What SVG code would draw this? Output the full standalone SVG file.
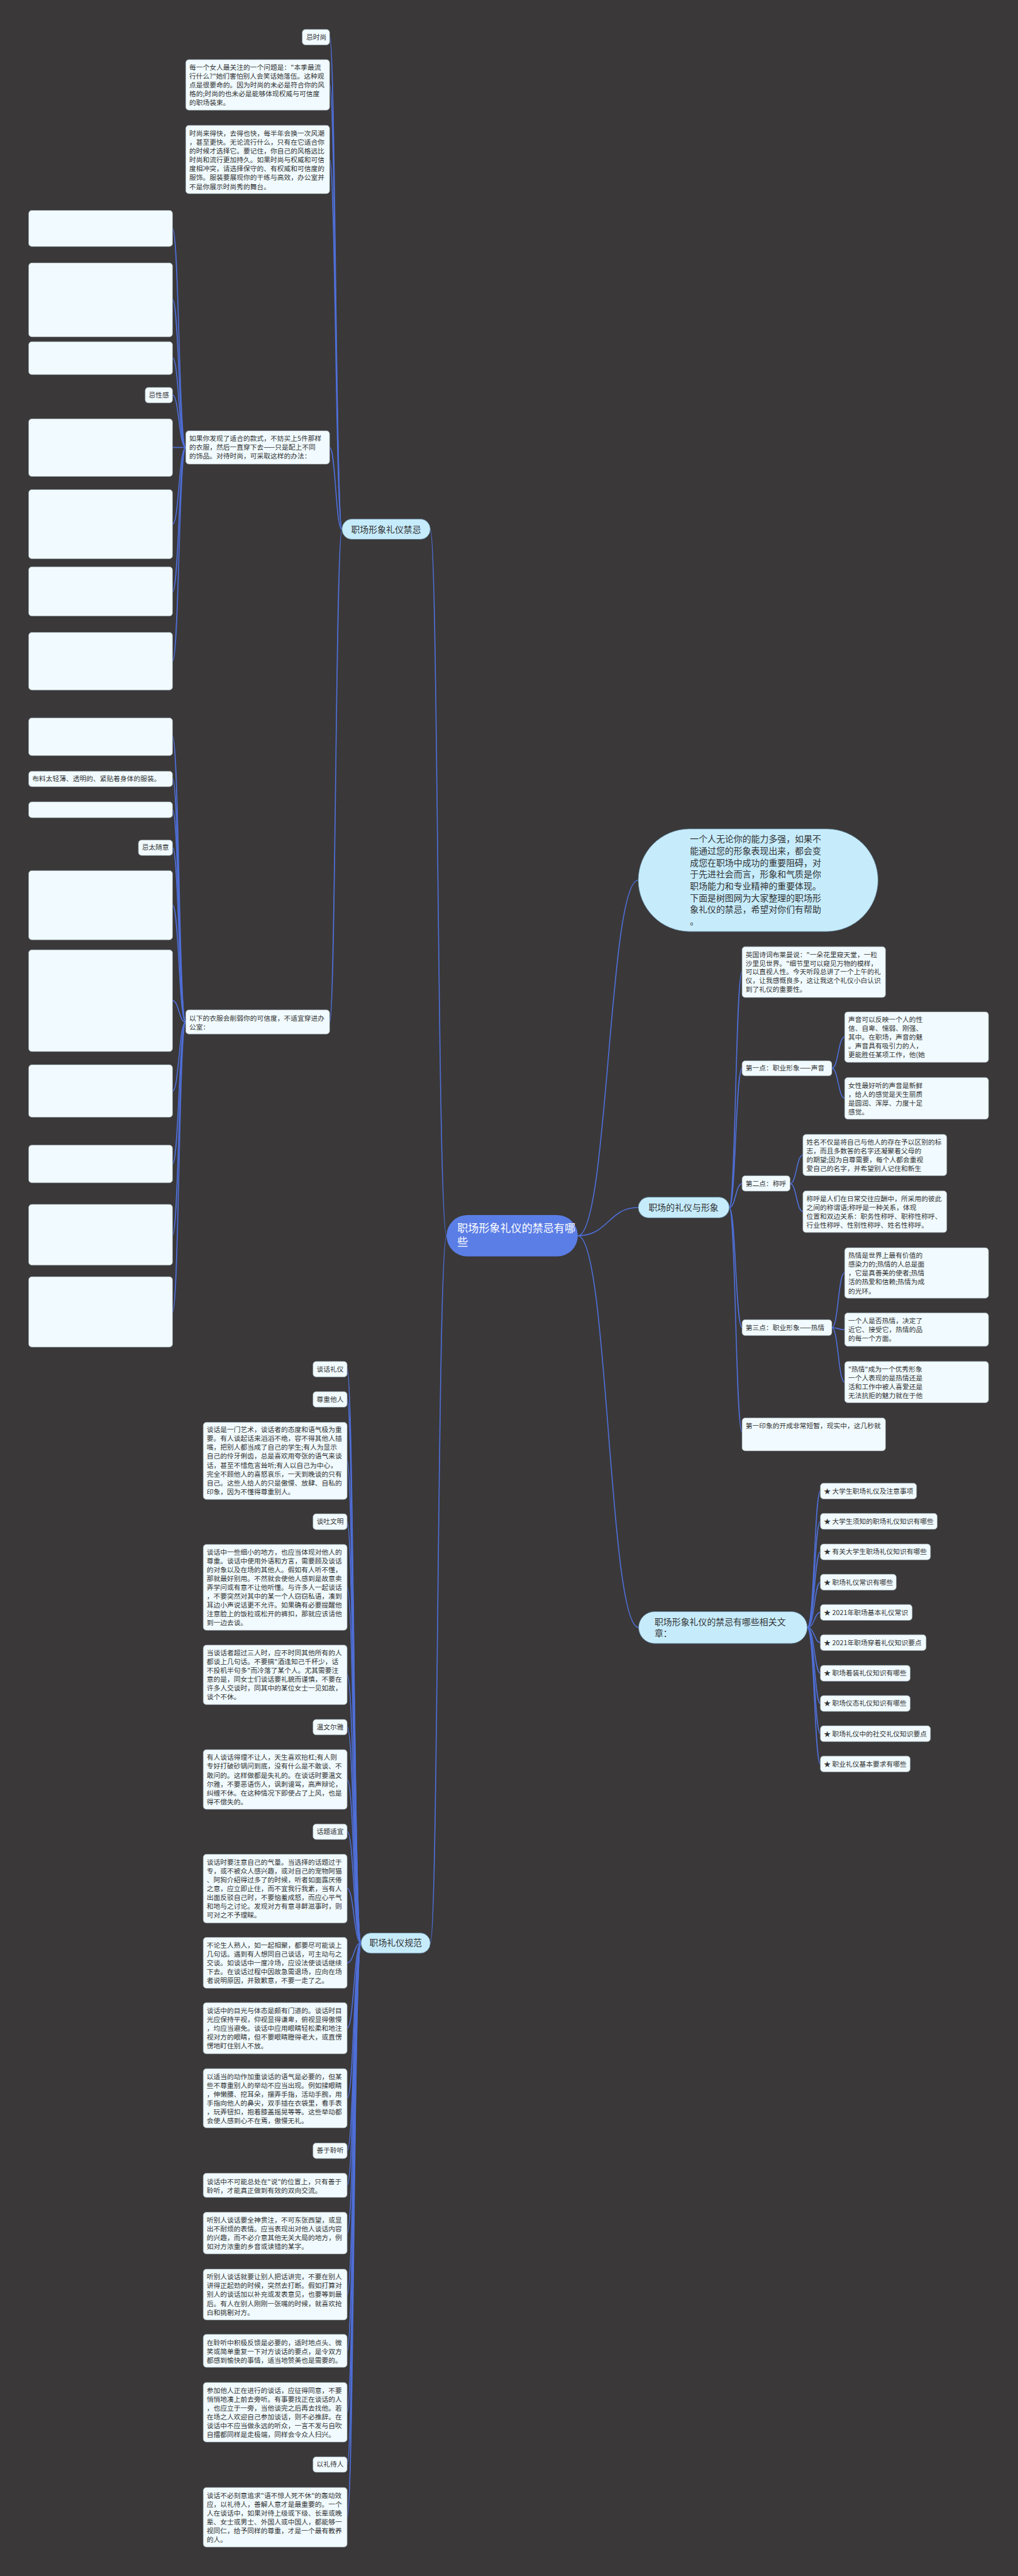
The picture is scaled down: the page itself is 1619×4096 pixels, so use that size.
<svg xmlns="http://www.w3.org/2000/svg" width="1619" height="4096" viewBox="0 0 1619 4096">
<style>
.bg{fill:#3a3839}
.b{fill:#f1fbff;stroke:#8d9aa3;stroke-width:1}
.m{fill:#c6ecfc;stroke:#5d7d92;stroke-width:1.2}
.ctr{fill:#5b7ee6}
.t{font-family:"Noto Sans CJK SC","Noto Sans",sans-serif;font-size:17px;fill:#333}
.mt{font-family:"Noto Sans CJK SC","Noto Sans",sans-serif;font-size:22px;fill:#333}
.ct{font-family:"Noto Sans CJK SC","Noto Sans",sans-serif;font-size:27px;fill:#fff}
.c{fill:none;stroke:#4f6fd8;stroke-width:2.6}
</style>
<rect class="bg" x="0" y="0" width="1619" height="4096"/>
<g transform="scale(0.63242)">
<g id="connectors">
<path class="c" d="M1123 3107 C1100 3107 1102 1331 1082 1331"/>
<path class="c" d="M1123 3107 C1100 3107 1102 4885 1082 4885"/>
<path class="c" d="M1453 3107 C1530 3107 1530 2213 1605 2213"/>
<path class="c" d="M1453 3107 C1530 3107 1530 3036 1605 3036"/>
<path class="c" d="M1453 3107 C1530 3107 1530 4092 1606 4092"/>
<path class="c" d="M860 1331 C844 1331 844 93 829 93"/>
<path class="c" d="M860 1331 C844 1331 844 213 829 213"/>
<path class="c" d="M860 1331 C844 1331 844 401 829 401"/>
<path class="c" d="M860 1331 C844 1331 844 1125 829 1125"/>
<path class="c" d="M860 1331 C844 1331 844 2570 829 2570"/>
<path class="c" d="M467 1125 C450 1125 450 575 434 575"/>
<path class="c" d="M467 1125 C450 1125 450 754 434 754"/>
<path class="c" d="M467 1125 C450 1125 450 900 434 900"/>
<path class="c" d="M467 1125 C450 1125 450 993 434 993"/>
<path class="c" d="M467 1125 C450 1125 450 1125 434 1125"/>
<path class="c" d="M467 1125 C450 1125 450 1318 434 1318"/>
<path class="c" d="M467 1125 C450 1125 450 1487 434 1487"/>
<path class="c" d="M467 1125 C450 1125 450 1662 434 1662"/>
<path class="c" d="M467 2570 C450 2570 450 1852 434 1852"/>
<path class="c" d="M467 2570 C450 2570 450 1958 434 1958"/>
<path class="c" d="M467 2570 C450 2570 450 2036 434 2036"/>
<path class="c" d="M467 2570 C450 2570 450 2131 434 2131"/>
<path class="c" d="M467 2570 C450 2570 450 2276 434 2276"/>
<path class="c" d="M467 2570 C450 2570 450 2516 434 2516"/>
<path class="c" d="M467 2570 C450 2570 450 2743 434 2743"/>
<path class="c" d="M467 2570 C450 2570 450 2926 434 2926"/>
<path class="c" d="M467 2570 C450 2570 450 3104 434 3104"/>
<path class="c" d="M467 2570 C450 2570 450 3298 434 3298"/>
<path class="c" d="M908 4885 C890 4885 890 3442 873 3442"/>
<path class="c" d="M908 4885 C890 4885 890 3518 873 3518"/>
<path class="c" d="M908 4885 C890 4885 890 3673 873 3673"/>
<path class="c" d="M908 4885 C890 4885 890 3826 873 3826"/>
<path class="c" d="M908 4885 C890 4885 890 3991 873 3991"/>
<path class="c" d="M908 4885 C890 4885 890 4211 873 4211"/>
<path class="c" d="M908 4885 C890 4885 890 4342 873 4342"/>
<path class="c" d="M908 4885 C890 4885 890 4474 873 4474"/>
<path class="c" d="M908 4885 C890 4885 890 4605 873 4605"/>
<path class="c" d="M908 4885 C890 4885 890 4748 873 4748"/>
<path class="c" d="M908 4885 C890 4885 890 4935 873 4935"/>
<path class="c" d="M908 4885 C890 4885 890 5099 873 5099"/>
<path class="c" d="M908 4885 C890 4885 890 5275 873 5275"/>
<path class="c" d="M908 4885 C890 4885 890 5407 873 5407"/>
<path class="c" d="M908 4885 C890 4885 890 5494 873 5494"/>
<path class="c" d="M908 4885 C890 4885 890 5614 873 5614"/>
<path class="c" d="M908 4885 C890 4885 890 5769 873 5769"/>
<path class="c" d="M908 4885 C890 4885 890 5910 873 5910"/>
<path class="c" d="M908 4885 C890 4885 890 6065 873 6065"/>
<path class="c" d="M908 4885 C890 4885 890 6196 873 6196"/>
<path class="c" d="M908 4885 C890 4885 890 6329 873 6329"/>
<path class="c" d="M1834 3036 C1850 3036 1850 2444 1866 2444"/>
<path class="c" d="M1834 3036 C1850 3036 1850 2686 1866 2686"/>
<path class="c" d="M1834 3036 C1850 3036 1850 2976 1866 2976"/>
<path class="c" d="M1834 3036 C1850 3036 1850 3338 1866 3338"/>
<path class="c" d="M1834 3036 C1850 3036 1850 3600 1866 3600"/>
<path class="c" d="M2092 2686 C2108 2686 2108 2607 2124 2607"/>
<path class="c" d="M2092 2686 C2108 2686 2108 2761 2124 2761"/>
<path class="c" d="M1987 2976 C2003 2976 2003 2904 2019 2904"/>
<path class="c" d="M1987 2976 C2003 2976 2003 3046 2019 3046"/>
<path class="c" d="M2092 3338 C2108 3338 2108 3200 2124 3200"/>
<path class="c" d="M2092 3338 C2108 3338 2108 3343 2124 3343"/>
<path class="c" d="M2092 3338 C2108 3338 2108 3475 2124 3475"/>
<path class="c" d="M2030 4092 C2048 4092 2048 3749 2063 3749"/>
<path class="c" d="M2030 4092 C2048 4092 2048 3825 2063 3825"/>
<path class="c" d="M2030 4092 C2048 4092 2048 3902 2063 3902"/>
<path class="c" d="M2030 4092 C2048 4092 2048 3978 2063 3978"/>
<path class="c" d="M2030 4092 C2048 4092 2048 4054 2063 4054"/>
<path class="c" d="M2030 4092 C2048 4092 2048 4130 2063 4130"/>
<path class="c" d="M2030 4092 C2048 4092 2048 4207 2063 4207"/>
<path class="c" d="M2030 4092 C2048 4092 2048 4283 2063 4283"/>
<path class="c" d="M2030 4092 C2048 4092 2048 4359 2063 4359"/>
<path class="c" d="M2030 4092 C2048 4092 2048 4435 2063 4435"/>
</g>

<g id="center"><rect class="ctr" x="1123" y="3055" width="330" height="104" rx="52"/><text class="ct" x="1150" y="3098">职场形象礼仪的禁忌有哪<tspan x="1150" dy="34">些</tspan></text></g>

<g id="n-jinji"><rect class="m" x="860" y="1305" width="222" height="51" rx="25"/><text class="mt" x="883" y="1339">职场形象礼仪禁忌</text></g>
<g id="n-guifan"><rect class="m" x="908" y="4860" width="174" height="51" rx="25"/><text class="mt" x="929" y="4893">职场礼仪规范</text></g>
<g id="n-bubble"><rect class="m" x="1605" y="2084" width="603" height="258" rx="129"/><text class="mt" x="1735" y="2118">一个人无论你的能力多强，如果不<tspan x="1735" dy="29.5">能通过您的形象表现出来，都会变</tspan><tspan x="1735" dy="29.5">成您在职场中成功的重要阻碍，对</tspan><tspan x="1735" dy="29.5">于先进社会而言，形象和气质是你</tspan><tspan x="1735" dy="29.5">职场能力和专业精神的重要体现。</tspan><tspan x="1735" dy="29.5">下面是树图网为大家整理的职场形</tspan><tspan x="1735" dy="29.5">象礼仪的禁忌，希望对你们有帮助</tspan><tspan x="1735" dy="29.5">。</tspan></text></g>
<g id="n-liyi"><rect class="m" x="1605" y="3010" width="229" height="52" rx="26"/><text class="mt" x="1631" y="3044">职场的礼仪与形象</text></g>
<g id="n-wenzhang"><rect class="m" x="1606" y="4052" width="424" height="80" rx="40"/><text class="mt" x="1646" y="4086">职场形象礼仪的禁忌有哪些相关文<tspan x="1646" dy="29">章：</tspan></text></g>

<g id="u1"><rect class="b" x="760" y="74" width="69" height="39" rx="8"/><text class="t" x="770" y="99">忌时尚</text></g>
<g id="u2"><rect class="b" x="467" y="150" width="362" height="127" rx="8"/><text class="t" x="476" y="176">每一个女人最关注的一个问题是："本季最流<tspan x="476" dy="22.2">行什么?"她们害怕别人会笑话她落伍。这种观</tspan><tspan x="476" dy="22.2">点是很要命的。因为时尚的未必是符合你的风</tspan><tspan x="476" dy="22.2">格的;时尚的也未必是能够体现权威与可信度</tspan><tspan x="476" dy="22.2">的职场装束。</tspan></text></g>
<g id="u3"><rect class="b" x="467" y="315" width="362" height="172" rx="8"/><text class="t" x="476" y="342">时尚来得快，去得也快，每半年会换一次风潮<tspan x="476" dy="22.2">，甚至更快。无论流行什么，只有在它适合你</tspan><tspan x="476" dy="22.2">的时候才选择它。要记住，你自己的风格远比</tspan><tspan x="476" dy="22.2">时尚和流行更加持久。如果时尚与权威和可信</tspan><tspan x="476" dy="22.2">度相冲突，请选择保守的、有权威和可信度的</tspan><tspan x="476" dy="22.2">服饰。服装要展现你的干练与高效，办公室并</tspan><tspan x="476" dy="22.2">不是你展示时尚秀的舞台。</tspan></text></g>
<g id="u4"><rect class="b" x="467" y="1083" width="362" height="84" rx="8"/><text class="t" x="476" y="1109">如果你发现了适合的款式，不妨买上5件那样<tspan x="476" dy="22.2">的衣服，然后一直穿下去——只是配上不同</tspan><tspan x="476" dy="22.2">的饰品。对待时尚，可采取这样的办法：</tspan></text></g>
<g id="u5"><rect class="b" x="467" y="2539" width="362" height="61" rx="8"/><text class="t" x="476" y="2566">以下的衣服会削弱你的可信度，不适宜穿进办<tspan x="476" dy="22.2">公室：</tspan></text></g>

<g id="k1"><rect class="b" x="72" y="529" width="362" height="91" rx="8"/></g>
<g id="k2"><rect class="b" x="72" y="661" width="362" height="186" rx="8"/></g>
<g id="k3"><rect class="b" x="72" y="859" width="362" height="83" rx="8"/></g>
<g id="k4"><rect class="b" x="365" y="974" width="69" height="39" rx="8"/><text class="t" x="374" y="999">忌性感</text></g>
<g id="k5"><rect class="b" x="72" y="1053" width="362" height="145" rx="8"/></g>
<g id="k6"><rect class="b" x="72" y="1231" width="362" height="174" rx="8"/></g>
<g id="k7"><rect class="b" x="72" y="1425" width="362" height="124" rx="8"/></g>
<g id="k8"><rect class="b" x="72" y="1590" width="362" height="145" rx="8"/></g>
<g id="k9"><rect class="b" x="72" y="1805" width="362" height="95" rx="8"/></g>
<g id="k10"><rect class="b" x="72" y="1939" width="362" height="39" rx="8"/><text class="t" x="81" y="1964">布料太轻薄、透明的、紧贴着身体的服装。</text></g>
<g id="k11"><rect class="b" x="72" y="2016" width="362" height="40" rx="8"/></g>
<g id="k12"><rect class="b" x="348" y="2112" width="86" height="39" rx="8"/><text class="t" x="357" y="2137">忌太随意</text></g>
<g id="k13"><rect class="b" x="72" y="2189" width="362" height="174" rx="8"/></g>
<g id="k14"><rect class="b" x="72" y="2388" width="362" height="256" rx="8"/></g>
<g id="k15"><rect class="b" x="72" y="2677" width="362" height="132" rx="8"/></g>
<g id="k16"><rect class="b" x="72" y="2879" width="362" height="95" rx="8"/></g>
<g id="k17"><rect class="b" x="72" y="3028" width="362" height="153" rx="8"/></g>
<g id="k18"><rect class="b" x="72" y="3210" width="362" height="177" rx="8"/></g>

<g id="r1"><rect class="b" x="1866" y="2380" width="361" height="128" rx="8"/><text class="t" x="1875" y="2406">英国诗词布莱曼说："一朵花里窥天堂，一粒<tspan x="1875" dy="22">沙里见世界。"细节里可以窥见万物的模样，</tspan><tspan x="1875" dy="22">可以直视人性。今天听段总讲了一个上午的礼</tspan><tspan x="1875" dy="22">仪，让我感慨良多，这让我这个礼仪小白认识</tspan><tspan x="1875" dy="22">到了礼仪的重要性。</tspan></text></g>
<g id="r2"><rect class="b" x="1866" y="2667" width="226" height="38" rx="8"/><text class="t" x="1875" y="2692">第一点：职业形象——声音</text></g>
<g id="r2a"><rect class="b" x="2124" y="2544" width="362" height="127" rx="8"/><text class="t" x="2133" y="2570">声音可以反映一个人的性<tspan x="2133" dy="22.2">信、自卑、懦弱、刚强、</tspan><tspan x="2133" dy="22.2">其中。在职场，声音的魅</tspan><tspan x="2133" dy="22.2">。声音具有吸引力的人，</tspan><tspan x="2133" dy="22.2">更能胜任某项工作，他(她</tspan></text></g>
<g id="r2b"><rect class="b" x="2124" y="2709" width="362" height="105" rx="8"/><text class="t" x="2133" y="2735">女性最好听的声音是新鲜<tspan x="2133" dy="22.2">，给人的感觉是天生丽质</tspan><tspan x="2133" dy="22.2">是圆润、浑厚、力度十足</tspan><tspan x="2133" dy="22.2">感觉。</tspan></text></g>
<g id="r3"><rect class="b" x="1866" y="2956" width="121" height="39" rx="8"/><text class="t" x="1875" y="2982">第二点：称呼</text></g>
<g id="r3a"><rect class="b" x="2019" y="2852" width="362" height="104" rx="8"/><text class="t" x="2028" y="2878">姓名不仅是将自己与他人的存在予以区别的标<tspan x="2028" dy="22.2">志，而且多数答的名字还凝聚着父母的</tspan><tspan x="2028" dy="22.2">的期望;因为自尊需要，每个人都会重视</tspan><tspan x="2028" dy="22.2">爱自己的名字，并希望别人记住和新生</tspan></text></g>
<g id="r3b"><rect class="b" x="2019" y="2994" width="362" height="105" rx="8"/><text class="t" x="2028" y="3020">称呼是人们在日常交往应酬中，所采用的彼此<tspan x="2028" dy="22.2">之间的称谓语;称呼是一种关系，体现</tspan><tspan x="2028" dy="22.2">位置和双边关系：职务性称呼、职称性称呼、</tspan><tspan x="2028" dy="22.2">行业性称呼、性别性称呼、姓名性称呼。</tspan></text></g>
<g id="r4"><rect class="b" x="1866" y="3318" width="226" height="40" rx="8"/><text class="t" x="1875" y="3344">第三点：职业形象——热情</text></g>
<g id="r4a"><rect class="b" x="2124" y="3137" width="362" height="127" rx="8"/><text class="t" x="2133" y="3163">热情是世界上最有价值的<tspan x="2133" dy="22.2">感染力的;热情的人总是面</tspan><tspan x="2133" dy="22.2">，它是真善美的使者;热情</tspan><tspan x="2133" dy="22.2">活的热爱和信赖;热情为成</tspan><tspan x="2133" dy="22.2">的光环。</tspan></text></g>
<g id="r4b"><rect class="b" x="2124" y="3301" width="362" height="84" rx="8"/><text class="t" x="2133" y="3327">一个人是否热情，决定了<tspan x="2133" dy="22.2">近它、接受它，热情的品</tspan><tspan x="2133" dy="22.2">的每一个方面。</tspan></text></g>
<g id="r4c"><rect class="b" x="2124" y="3423" width="362" height="104" rx="8"/><text class="t" x="2133" y="3449">"热情"成为一个优秀形象<tspan x="2133" dy="22.2">一个人表现的是热情还是</tspan><tspan x="2133" dy="22.2">活和工作中被人喜爱还是</tspan><tspan x="2133" dy="22.2">无法抗拒的魅力就在于他</tspan></text></g>
<g id="r5"><rect class="b" x="1866" y="3565" width="361" height="83" rx="8"/><text class="t" x="1875" y="3591">第一印象的开成非常短暂，现实中，这几秒就</text></g>

<g id="l1"><rect class="b" x="787" y="3423" width="86" height="39" rx="8"/><text class="t" x="796" y="3448">谈话礼仪</text></g>
<g id="l2"><rect class="b" x="787" y="3499" width="86" height="39" rx="8"/><text class="t" x="796" y="3524">尊重他人</text></g>
<g id="l3"><rect class="b" x="511" y="3576" width="362" height="194" rx="8"/><text class="t" x="520" y="3601">谈话是一门艺术，谈话者的态度和语气极为重<tspan x="520" dy="22.2">要。有人谈起话来滔滔不绝，容不得其他人插</tspan><tspan x="520" dy="22.2">嘴，把别人都当成了自己的学生;有人为显示</tspan><tspan x="520" dy="22.2">自己的伶牙俐齿，总是喜欢用夸张的语气来谈</tspan><tspan x="520" dy="22.2">话，甚至不惜危言耸听;有人以自己为中心，</tspan><tspan x="520" dy="22.2">完全不顾他人的喜怒哀乐，一天到晚谈的只有</tspan><tspan x="520" dy="22.2">自己。这些人给人的只是傲慢、放肆、自私的</tspan><tspan x="520" dy="22.2">印象，因为不懂得尊重别人。</tspan></text></g>
<g id="l4"><rect class="b" x="787" y="3806" width="86" height="40" rx="8"/><text class="t" x="796" y="3832">谈吐文明</text></g>
<g id="l5"><rect class="b" x="511" y="3883" width="362" height="216" rx="8"/><text class="t" x="520" y="3909">谈话中一些细小的地方，也应当体现对他人的<tspan x="520" dy="22.2">尊重。谈话中使用外语和方言，需要顾及谈话</tspan><tspan x="520" dy="22.2">的对象以及在场的其他人。假如有人听不懂，</tspan><tspan x="520" dy="22.2">那就最好别用。不然就会使他人感到是故意卖</tspan><tspan x="520" dy="22.2">弄学问或有意不让他听懂。与许多人一起谈话</tspan><tspan x="520" dy="22.2">，不要突然对其中的某一个人窃窃私语，凑到</tspan><tspan x="520" dy="22.2">耳边小声说话更不允许。如果确有必要提醒他</tspan><tspan x="520" dy="22.2">注意脸上的饭粒或松开的裤扣，那就应该请他</tspan><tspan x="520" dy="22.2">到一边去谈。</tspan></text></g>
<g id="l6"><rect class="b" x="511" y="4136" width="362" height="150" rx="8"/><text class="t" x="520" y="4162">当谈话者超过三人时，应不时同其他所有的人<tspan x="520" dy="22.2">都谈上几句话。不要搞"酒逢知己千杯少，话</tspan><tspan x="520" dy="22.2">不投机半句多"而冷落了某个人。尤其需要注</tspan><tspan x="520" dy="22.2">意的是，同女士们谈话要礼貌而谨慎，不要在</tspan><tspan x="520" dy="22.2">许多人交谈时，同其中的某位女士一见如故，</tspan><tspan x="520" dy="22.2">谈个不休。</tspan></text></g>
<g id="l7"><rect class="b" x="787" y="4323" width="86" height="39" rx="8"/><text class="t" x="796" y="4348">温文尔雅</text></g>
<g id="l8"><rect class="b" x="511" y="4399" width="362" height="150" rx="8"/><text class="t" x="520" y="4425">有人谈话得理不让人，天生喜欢抬杠;有人则<tspan x="520" dy="22.2">专好打破砂锅问到底，没有什么是不敢谈、不</tspan><tspan x="520" dy="22.2">敢问的。这样做都是失礼的。在谈话时要温文</tspan><tspan x="520" dy="22.2">尔雅，不要恶语伤人，讽刺谩骂，高声辩论，</tspan><tspan x="520" dy="22.2">纠缠不休。在这种情况下即使占了上风，也是</tspan><tspan x="520" dy="22.2">得不偿失的。</tspan></text></g>
<g id="l9"><rect class="b" x="787" y="4586" width="86" height="39" rx="8"/><text class="t" x="796" y="4611">话题适宜</text></g>
<g id="l10"><rect class="b" x="511" y="4662" width="362" height="173" rx="8"/><text class="t" x="520" y="4688">谈话时要注意自己的气量。当选择的话题过于<tspan x="520" dy="22.2">专，或不被众人感兴趣，或对自己的宠物阿猫</tspan><tspan x="520" dy="22.2">、阿狗介绍得过多了的时候，听者如面露厌倦</tspan><tspan x="520" dy="22.2">之意，应立即止住，而不宜我行我素，当有人</tspan><tspan x="520" dy="22.2">出面反驳自己时，不要恼羞成怒，而应心平气</tspan><tspan x="520" dy="22.2">和地与之讨论。发现对方有意寻衅滋事时，则</tspan><tspan x="520" dy="22.2">可对之不予理睬。</tspan></text></g>
<g id="l11"><rect class="b" x="511" y="4871" width="362" height="128" rx="8"/><text class="t" x="520" y="4897">不论生人熟人，如一起相聚，都要尽可能谈上<tspan x="520" dy="22.2">几句话。遇到有人想同自己谈话，可主动与之</tspan><tspan x="520" dy="22.2">交谈。如谈话中一度冷场，应设法使谈话继续</tspan><tspan x="520" dy="22.2">下去。在谈话过程中因故急需退场，应向在场</tspan><tspan x="520" dy="22.2">者说明原因，并致歉意，不要一走了之。</tspan></text></g>
<g id="l12"><rect class="b" x="511" y="5035" width="362" height="129" rx="8"/><text class="t" x="520" y="5062">谈话中的目光与体态是颇有门道的。谈话时目<tspan x="520" dy="22.2">光应保持平视，仰视显得谦卑，俯视显得傲慢</tspan><tspan x="520" dy="22.2">，均应当避免。谈话中应用眼睛轻松柔和地注</tspan><tspan x="520" dy="22.2">视对方的眼睛，但不要眼睛瞪得老大，或直愣</tspan><tspan x="520" dy="22.2">愣地盯住别人不放。</tspan></text></g>
<g id="l13"><rect class="b" x="511" y="5201" width="362" height="149" rx="8"/><text class="t" x="520" y="5227">以适当的动作加重谈话的语气是必要的，但某<tspan x="520" dy="22.2">些不尊重别人的举动不应当出现。例如揉眼睛</tspan><tspan x="520" dy="22.2">，伸懒腰、挖耳朵，摆弄手指，活动手腕，用</tspan><tspan x="520" dy="22.2">手指向他人的鼻尖，双手插在衣袋里，看手表</tspan><tspan x="520" dy="22.2">，玩弄钮扣，抱着膝盖摇晃等等。这些举动都</tspan><tspan x="520" dy="22.2">会使人感到心不在焉，傲慢无礼。</tspan></text></g>
<g id="l14"><rect class="b" x="787" y="5388" width="86" height="39" rx="8"/><text class="t" x="796" y="5413">善于聆听</text></g>
<g id="l15"><rect class="b" x="511" y="5464" width="362" height="61" rx="8"/><text class="t" x="520" y="5491">谈话中不可能总处在"说"的位置上，只有善于<tspan x="520" dy="22.2">聆听，才能真正做到有效的双向交流。</tspan></text></g>
<g id="l16"><rect class="b" x="511" y="5562" width="362" height="105" rx="8"/><text class="t" x="520" y="5588">听别人谈话要全神贯注，不可东张西望，或显<tspan x="520" dy="22.2">出不耐烦的表情。应当表现出对他人谈话内容</tspan><tspan x="520" dy="22.2">的兴趣，而不必介意其他无关大局的地方，例</tspan><tspan x="520" dy="22.2">如对方浓重的乡音或读错的某字。</tspan></text></g>
<g id="l17"><rect class="b" x="511" y="5705" width="362" height="128" rx="8"/><text class="t" x="520" y="5731">听别人谈话就要让别人把话讲完，不要在别人<tspan x="520" dy="22.2">讲得正起劲的时候，突然去打断。假如打算对</tspan><tspan x="520" dy="22.2">别人的谈话加以补充或发表意见，也要等到最</tspan><tspan x="520" dy="22.2">后。有人在别人刚刚一张嘴的时候，就喜欢抢</tspan><tspan x="520" dy="22.2">白和挑剔对方。</tspan></text></g>
<g id="l18"><rect class="b" x="511" y="5869" width="362" height="83" rx="8"/><text class="t" x="520" y="5896">在聆听中积极反馈是必要的，适时地点头、微<tspan x="520" dy="22.2">笑或简单重复一下对方谈话的要点，是令双方</tspan><tspan x="520" dy="22.2">都感到愉快的事情，适当地赞美也是需要的。</tspan></text></g>
<g id="l19"><rect class="b" x="511" y="5990" width="362" height="150" rx="8"/><text class="t" x="520" y="6017">参加他人正在进行的谈话，应征得同意，不要<tspan x="520" dy="22.2">悄悄地凑上前去旁听。有事要找正在谈话的人</tspan><tspan x="520" dy="22.2">，也应立于一旁，当他谈完之后再去找他。若</tspan><tspan x="520" dy="22.2">在场之人欢迎自己参加谈话，则不必推辞。在</tspan><tspan x="520" dy="22.2">谈话中不应当做永远的听众，一言不发与自吹</tspan><tspan x="520" dy="22.2">自擂都同样是走极端，同样会令众人扫兴。</tspan></text></g>
<g id="l20"><rect class="b" x="787" y="6177" width="86" height="39" rx="8"/><text class="t" x="796" y="6202">以礼待人</text></g>
<g id="l21"><rect class="b" x="511" y="6254" width="362" height="150" rx="8"/><text class="t" x="520" y="6280">谈话不必刻意追求"语不惊人死不休"的轰动效<tspan x="520" dy="22.2">应，以礼待人，善解人意才是最重要的。一个</tspan><tspan x="520" dy="22.2">人在谈话中，如果对待上级或下级、长辈或晚</tspan><tspan x="520" dy="22.2">辈、女士或男士、外国人或中国人，都能够一</tspan><tspan x="520" dy="22.2">视同仁，给予同样的尊重，才是一个最有教养</tspan><tspan x="520" dy="22.2">的人。</tspan></text></g>

<g id="a1"><rect class="b" x="2063" y="3729" width="242" height="40" rx="8"/><text class="t" x="2072" y="3755">★ 大学生职场礼仪及注意事项</text></g>
<g id="a2"><rect class="b" x="2063" y="3805" width="294" height="40" rx="8"/><text class="t" x="2072" y="3831">★ 大学生须知的职场礼仪知识有哪些</text></g>
<g id="a3"><rect class="b" x="2063" y="3882" width="277" height="40" rx="8"/><text class="t" x="2072" y="3908">★ 有关大学生职场礼仪知识有哪些</text></g>
<g id="a4"><rect class="b" x="2063" y="3958" width="191" height="40" rx="8"/><text class="t" x="2072" y="3984">★ 职场礼仪常识有哪些</text></g>
<g id="a5"><rect class="b" x="2063" y="4034" width="231" height="40" rx="8"/><text class="t" x="2072" y="4060">★ 2021年职场基本礼仪常识</text></g>
<g id="a6"><rect class="b" x="2063" y="4110" width="266" height="40" rx="8"/><text class="t" x="2072" y="4136">★ 2021年职场穿着礼仪知识要点</text></g>
<g id="a7"><rect class="b" x="2063" y="4187" width="226" height="40" rx="8"/><text class="t" x="2072" y="4213">★ 职场着装礼仪知识有哪些</text></g>
<g id="a8"><rect class="b" x="2063" y="4263" width="226" height="40" rx="8"/><text class="t" x="2072" y="4289">★ 职场仪态礼仪知识有哪些</text></g>
<g id="a9"><rect class="b" x="2063" y="4339" width="277" height="40" rx="8"/><text class="t" x="2072" y="4365">★ 职场礼仪中的社交礼仪知识要点</text></g>
<g id="a10"><rect class="b" x="2063" y="4415" width="226" height="40" rx="8"/><text class="t" x="2072" y="4441">★ 职业礼仪基本要求有哪些</text></g>
</g>
</svg>
